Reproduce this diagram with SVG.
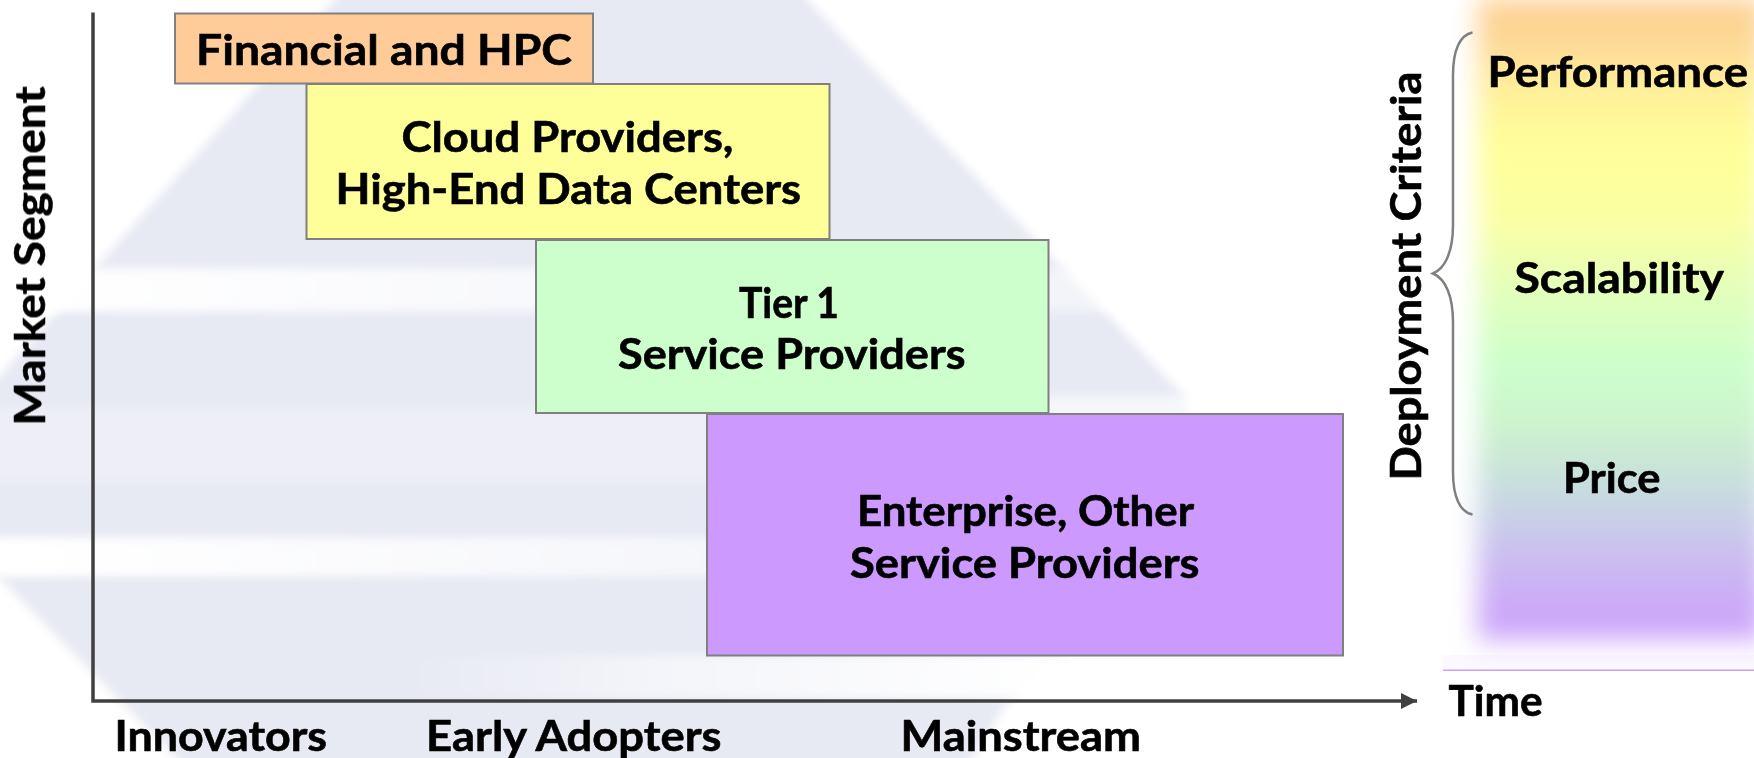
<svg xmlns="http://www.w3.org/2000/svg" width="1754" height="758" viewBox="0 0 1754 758">
<style>
text{font-family:"Lato","Liberation Sans",sans-serif;font-weight:700;font-size:41.5px;fill:#000;stroke:#000;stroke-width:.6}
.box{stroke:#808080;stroke-width:2}
.axis{fill:none;stroke:#404040;stroke-width:3.5}
</style>
<defs>
<linearGradient id="panelGrad" gradientUnits="userSpaceOnUse" x1="0" y1="0" x2="0" y2="640">
<stop offset="0" stop-color="#fdd08f"/>
<stop offset="0.06" stop-color="#fdd696"/>
<stop offset="0.14" stop-color="#fff09a"/>
<stop offset="0.23" stop-color="#ffff99"/>
<stop offset="0.34" stop-color="#fbffa3"/>
<stop offset="0.44" stop-color="#e6ffb8"/>
<stop offset="0.57" stop-color="#ccffcc"/>
<stop offset="0.66" stop-color="#cdf4cd"/>
<stop offset="0.73" stop-color="#c9e4d8"/>
<stop offset="0.79" stop-color="#c8d6e4"/>
<stop offset="0.84" stop-color="#cac6ec"/>
<stop offset="0.93" stop-color="#ccadf6"/>
<stop offset="1" stop-color="#cca2fb"/>
</linearGradient>
<linearGradient id="stripeA" x1="0" y1="0" x2="1" y2="0">
<stop offset="0" stop-color="#fff" stop-opacity="1"/>
<stop offset="0.2" stop-color="#fff" stop-opacity="0.88"/>
<stop offset="0.6" stop-color="#fff" stop-opacity="0.6"/>
<stop offset="1" stop-color="#fff" stop-opacity="0.45"/>
</linearGradient>
<linearGradient id="stripeB" x1="0" y1="0" x2="1" y2="0">
<stop offset="0" stop-color="#fff" stop-opacity="0"/>
<stop offset="0.4" stop-color="#fff" stop-opacity="0.55"/>
<stop offset="1" stop-color="#fff" stop-opacity="1"/>
</linearGradient>
<filter id="blurPanel" x="-20%" y="-20%" width="140%" height="140%"><feGaussianBlur stdDeviation="13"/></filter>
<filter id="blurSoft" x="-5%" y="-30%" width="110%" height="160%"><feGaussianBlur stdDeviation="5"/></filter>
<filter id="blurEdge" x="-5%" y="-5%" width="110%" height="110%"><feGaussianBlur stdDeviation="5"/></filter>
<marker id="arrow" markerUnits="userSpaceOnUse" markerWidth="17" markerHeight="16" refX="16" refY="8" orient="auto"><path d="M0,0L16,8L0,16Z" fill="#404040"/></marker>
</defs>
<rect width="1754" height="758" fill="#fff"/>
<g id="watermark">
<g filter="url(#blurEdge)"><polygon points="352,-20 788,-20 1183,395 1190,415 1065,660 1005,705 960,778 196,778 -20,558 -20,398" fill="#e7e9f3"/></g>
<g filter="url(#blurSoft)">
<rect x="-20" y="268" width="1230" height="44" fill="url(#stripeA)"/>
<rect x="-20" y="537" width="1230" height="40" fill="url(#stripeA)"/>
<rect x="-20" y="405" width="1230" height="80" fill="#fff" opacity="0.25"/>
<rect x="380" y="655" width="700" height="44" fill="url(#stripeB)"/>
<rect x="1040" y="395" width="170" height="20" fill="#fff" opacity="0.6"/>
</g>
</g>
<g id="panel">
<rect x="1443" y="655" width="311" height="15" fill="#fbf8ff"/>
<rect x="1478" y="-2" width="286" height="642" fill="url(#panelGrad)" filter="url(#blurPanel)"/>
<rect x="1443" y="669.5" width="311" height="1.5" fill="#c6a2f4"/>
</g>
<g id="connectors">
<path class="axis" d="M93,12.5V701H1417" marker-end="url(#arrow)"/>
<path d="M1472.5,32.5C1460,35 1453,50 1453,75V225C1453,250 1446,268 1433,273.5C1446,279 1453,297 1453,322V472C1453,497 1460,512 1472.5,514.5" fill="none" stroke="#808080" stroke-width="2.5"/>
</g>
<g id="financial"><rect class="box" x="175" y="13.5" width="418" height="70" fill="#ffcc99"/><text x="196" y="65" textLength="376" lengthAdjust="spacingAndGlyphs">Financial and HPC</text></g>
<g id="cloud"><rect class="box" x="306.5" y="84" width="523" height="155" fill="#ffff99"/><text x="401.5" y="152" textLength="332" lengthAdjust="spacingAndGlyphs">Cloud Providers,</text><text x="335.5" y="203.5" textLength="465.5" lengthAdjust="spacingAndGlyphs">High-End Data Centers</text></g>
<g id="tier1"><rect class="box" x="536" y="240" width="512.5" height="173" fill="#ccffcc"/><text x="739" y="317.5" textLength="100" lengthAdjust="spacingAndGlyphs">Tier 1</text><text x="618" y="368.5" textLength="347.5" lengthAdjust="spacingAndGlyphs">Service Providers</text></g>
<g id="enterprise"><rect class="box" x="707" y="414" width="636" height="241.5" fill="#cc99ff"/><text x="857" y="525.5" textLength="337" lengthAdjust="spacingAndGlyphs">Enterprise, Other</text><text x="850" y="577.5" textLength="349.5" lengthAdjust="spacingAndGlyphs">Service Providers</text></g>
<g id="axis-labels">
<text x="114.5" y="750.5" textLength="212.5" lengthAdjust="spacingAndGlyphs">Innovators</text>
<text x="426" y="750.5" textLength="295.5" lengthAdjust="spacingAndGlyphs">Early Adopters</text>
<text x="900.5" y="750.5" textLength="240.5" lengthAdjust="spacingAndGlyphs">Mainstream</text>
<text x="1448.5" y="716" textLength="94" lengthAdjust="spacingAndGlyphs">Time</text>
<text transform="translate(45,425.5) rotate(-90)" textLength="339" lengthAdjust="spacingAndGlyphs">Market Segment</text>
<text transform="translate(1420.5,480.5) rotate(-90)" textLength="409" lengthAdjust="spacingAndGlyphs">Deployment Criteria</text>
</g>
<g id="criteria">
<text x="1487.5" y="86.5" textLength="260.5" lengthAdjust="spacingAndGlyphs">Performance</text>
<text x="1514.5" y="293" textLength="209.5" lengthAdjust="spacingAndGlyphs">Scalability</text>
<text x="1563" y="492.5" textLength="97.5" lengthAdjust="spacingAndGlyphs">Price</text>
</g>
</svg>
